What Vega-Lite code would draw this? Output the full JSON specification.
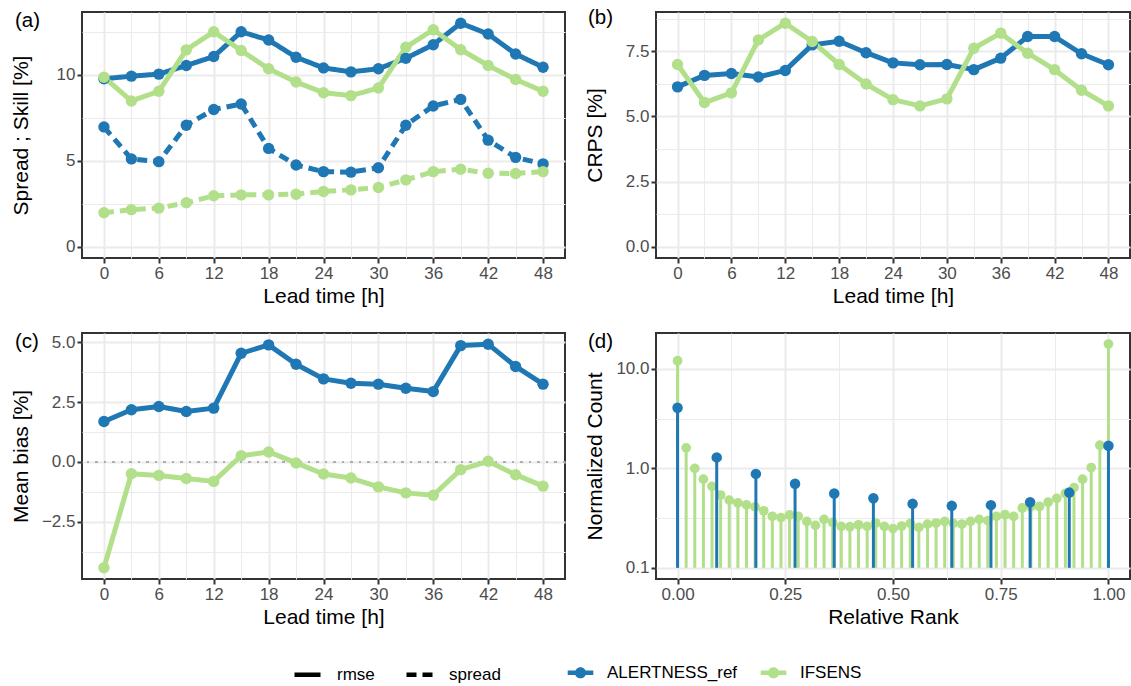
{
  "$schema": "https://vega.github.io/schema/vega-lite/v6.json",
  "padding": {"left": 8, "top": 7, "right": 0, "bottom": 5},
  "bounds": "flush",
  "columns": 2,
  "spacing": {"row": 75, "column": 91},
  "datasets": {
    "skill": [
      {"lead": 0, "model": "ALERTNESS_ref", "stat": "rmse", "value": 9.77},
      {"lead": 3, "model": "ALERTNESS_ref", "stat": "rmse", "value": 9.92},
      {"lead": 6, "model": "ALERTNESS_ref", "stat": "rmse", "value": 10.04},
      {"lead": 9, "model": "ALERTNESS_ref", "stat": "rmse", "value": 10.54},
      {"lead": 12, "model": "ALERTNESS_ref", "stat": "rmse", "value": 11.06},
      {"lead": 15, "model": "ALERTNESS_ref", "stat": "rmse", "value": 12.5},
      {"lead": 18, "model": "ALERTNESS_ref", "stat": "rmse", "value": 12.02},
      {"lead": 21, "model": "ALERTNESS_ref", "stat": "rmse", "value": 11.02},
      {"lead": 24, "model": "ALERTNESS_ref", "stat": "rmse", "value": 10.4},
      {"lead": 27, "model": "ALERTNESS_ref", "stat": "rmse", "value": 10.17},
      {"lead": 30, "model": "ALERTNESS_ref", "stat": "rmse", "value": 10.35},
      {"lead": 33, "model": "ALERTNESS_ref", "stat": "rmse", "value": 10.96},
      {"lead": 36, "model": "ALERTNESS_ref", "stat": "rmse", "value": 11.75},
      {"lead": 39, "model": "ALERTNESS_ref", "stat": "rmse", "value": 13.0},
      {"lead": 42, "model": "ALERTNESS_ref", "stat": "rmse", "value": 12.37},
      {"lead": 45, "model": "ALERTNESS_ref", "stat": "rmse", "value": 11.21},
      {"lead": 48, "model": "ALERTNESS_ref", "stat": "rmse", "value": 10.44},
      {"lead": 0, "model": "ALERTNESS_ref", "stat": "spread", "value": 6.97},
      {"lead": 3, "model": "ALERTNESS_ref", "stat": "spread", "value": 5.11},
      {"lead": 6, "model": "ALERTNESS_ref", "stat": "spread", "value": 4.95},
      {"lead": 9, "model": "ALERTNESS_ref", "stat": "spread", "value": 7.07},
      {"lead": 12, "model": "ALERTNESS_ref", "stat": "spread", "value": 7.98},
      {"lead": 15, "model": "ALERTNESS_ref", "stat": "spread", "value": 8.3},
      {"lead": 18, "model": "ALERTNESS_ref", "stat": "spread", "value": 5.72},
      {"lead": 21, "model": "ALERTNESS_ref", "stat": "spread", "value": 4.76},
      {"lead": 24, "model": "ALERTNESS_ref", "stat": "spread", "value": 4.37},
      {"lead": 27, "model": "ALERTNESS_ref", "stat": "spread", "value": 4.34},
      {"lead": 30, "model": "ALERTNESS_ref", "stat": "spread", "value": 4.6},
      {"lead": 33, "model": "ALERTNESS_ref", "stat": "spread", "value": 7.07},
      {"lead": 36, "model": "ALERTNESS_ref", "stat": "spread", "value": 8.19},
      {"lead": 39, "model": "ALERTNESS_ref", "stat": "spread", "value": 8.57},
      {"lead": 42, "model": "ALERTNESS_ref", "stat": "spread", "value": 6.2},
      {"lead": 45, "model": "ALERTNESS_ref", "stat": "spread", "value": 5.2},
      {"lead": 48, "model": "ALERTNESS_ref", "stat": "spread", "value": 4.82},
      {"lead": 0, "model": "IFSENS", "stat": "rmse", "value": 9.86},
      {"lead": 3, "model": "IFSENS", "stat": "rmse", "value": 8.48},
      {"lead": 6, "model": "IFSENS", "stat": "rmse", "value": 9.04},
      {"lead": 9, "model": "IFSENS", "stat": "rmse", "value": 11.45},
      {"lead": 12, "model": "IFSENS", "stat": "rmse", "value": 12.5},
      {"lead": 15, "model": "IFSENS", "stat": "rmse", "value": 11.41},
      {"lead": 18, "model": "IFSENS", "stat": "rmse", "value": 10.35},
      {"lead": 21, "model": "IFSENS", "stat": "rmse", "value": 9.58},
      {"lead": 24, "model": "IFSENS", "stat": "rmse", "value": 8.96},
      {"lead": 27, "model": "IFSENS", "stat": "rmse", "value": 8.79},
      {"lead": 30, "model": "IFSENS", "stat": "rmse", "value": 9.23},
      {"lead": 33, "model": "IFSENS", "stat": "rmse", "value": 11.6},
      {"lead": 36, "model": "IFSENS", "stat": "rmse", "value": 12.62},
      {"lead": 39, "model": "IFSENS", "stat": "rmse", "value": 11.46},
      {"lead": 42, "model": "IFSENS", "stat": "rmse", "value": 10.54},
      {"lead": 45, "model": "IFSENS", "stat": "rmse", "value": 9.73},
      {"lead": 48, "model": "IFSENS", "stat": "rmse", "value": 9.04},
      {"lead": 0, "model": "IFSENS", "stat": "spread", "value": 1.98},
      {"lead": 3, "model": "IFSENS", "stat": "spread", "value": 2.16},
      {"lead": 6, "model": "IFSENS", "stat": "spread", "value": 2.25},
      {"lead": 9, "model": "IFSENS", "stat": "spread", "value": 2.56},
      {"lead": 12, "model": "IFSENS", "stat": "spread", "value": 2.97},
      {"lead": 15, "model": "IFSENS", "stat": "spread", "value": 3.02},
      {"lead": 18, "model": "IFSENS", "stat": "spread", "value": 3.02},
      {"lead": 21, "model": "IFSENS", "stat": "spread", "value": 3.06},
      {"lead": 24, "model": "IFSENS", "stat": "spread", "value": 3.22},
      {"lead": 27, "model": "IFSENS", "stat": "spread", "value": 3.31},
      {"lead": 30, "model": "IFSENS", "stat": "spread", "value": 3.45},
      {"lead": 33, "model": "IFSENS", "stat": "spread", "value": 3.89},
      {"lead": 36, "model": "IFSENS", "stat": "spread", "value": 4.37},
      {"lead": 39, "model": "IFSENS", "stat": "spread", "value": 4.51},
      {"lead": 42, "model": "IFSENS", "stat": "spread", "value": 4.28},
      {"lead": 45, "model": "IFSENS", "stat": "spread", "value": 4.26},
      {"lead": 48, "model": "IFSENS", "stat": "spread", "value": 4.37}
    ],
    "crps": [
      {"lead": 0, "model": "ALERTNESS_ref", "value": 6.13},
      {"lead": 3, "model": "ALERTNESS_ref", "value": 6.57},
      {"lead": 6, "model": "ALERTNESS_ref", "value": 6.64},
      {"lead": 9, "model": "ALERTNESS_ref", "value": 6.51},
      {"lead": 12, "model": "ALERTNESS_ref", "value": 6.76},
      {"lead": 15, "model": "ALERTNESS_ref", "value": 7.74},
      {"lead": 18, "model": "ALERTNESS_ref", "value": 7.88},
      {"lead": 21, "model": "ALERTNESS_ref", "value": 7.44},
      {"lead": 24, "model": "ALERTNESS_ref", "value": 7.05},
      {"lead": 27, "model": "ALERTNESS_ref", "value": 6.98},
      {"lead": 30, "model": "ALERTNESS_ref", "value": 6.99},
      {"lead": 33, "model": "ALERTNESS_ref", "value": 6.79},
      {"lead": 36, "model": "ALERTNESS_ref", "value": 7.23},
      {"lead": 39, "model": "ALERTNESS_ref", "value": 8.06},
      {"lead": 42, "model": "ALERTNESS_ref", "value": 8.06},
      {"lead": 45, "model": "ALERTNESS_ref", "value": 7.4},
      {"lead": 48, "model": "ALERTNESS_ref", "value": 6.98},
      {"lead": 0, "model": "IFSENS", "value": 6.99},
      {"lead": 3, "model": "IFSENS", "value": 5.53},
      {"lead": 6, "model": "IFSENS", "value": 5.9},
      {"lead": 9, "model": "IFSENS", "value": 7.93},
      {"lead": 12, "model": "IFSENS", "value": 8.57},
      {"lead": 15, "model": "IFSENS", "value": 7.87},
      {"lead": 18, "model": "IFSENS", "value": 6.99},
      {"lead": 21, "model": "IFSENS", "value": 6.24},
      {"lead": 24, "model": "IFSENS", "value": 5.64},
      {"lead": 27, "model": "IFSENS", "value": 5.4},
      {"lead": 30, "model": "IFSENS", "value": 5.67},
      {"lead": 33, "model": "IFSENS", "value": 7.61},
      {"lead": 36, "model": "IFSENS", "value": 8.19},
      {"lead": 39, "model": "IFSENS", "value": 7.42},
      {"lead": 42, "model": "IFSENS", "value": 6.79},
      {"lead": 45, "model": "IFSENS", "value": 6.0},
      {"lead": 48, "model": "IFSENS", "value": 5.4}
    ],
    "bias": [
      {"lead": 0, "model": "ALERTNESS_ref", "value": 1.69},
      {"lead": 3, "model": "ALERTNESS_ref", "value": 2.18},
      {"lead": 6, "model": "ALERTNESS_ref", "value": 2.32},
      {"lead": 9, "model": "ALERTNESS_ref", "value": 2.11},
      {"lead": 12, "model": "ALERTNESS_ref", "value": 2.25},
      {"lead": 15, "model": "ALERTNESS_ref", "value": 4.54},
      {"lead": 18, "model": "ALERTNESS_ref", "value": 4.89},
      {"lead": 21, "model": "ALERTNESS_ref", "value": 4.08},
      {"lead": 24, "model": "ALERTNESS_ref", "value": 3.47},
      {"lead": 27, "model": "ALERTNESS_ref", "value": 3.29},
      {"lead": 30, "model": "ALERTNESS_ref", "value": 3.25},
      {"lead": 33, "model": "ALERTNESS_ref", "value": 3.08},
      {"lead": 36, "model": "ALERTNESS_ref", "value": 2.94},
      {"lead": 39, "model": "ALERTNESS_ref", "value": 4.86},
      {"lead": 42, "model": "ALERTNESS_ref", "value": 4.92},
      {"lead": 45, "model": "ALERTNESS_ref", "value": 3.99},
      {"lead": 48, "model": "ALERTNESS_ref", "value": 3.25},
      {"lead": 0, "model": "IFSENS", "value": -4.42},
      {"lead": 3, "model": "IFSENS", "value": -0.49},
      {"lead": 6, "model": "IFSENS", "value": -0.56},
      {"lead": 9, "model": "IFSENS", "value": -0.69},
      {"lead": 12, "model": "IFSENS", "value": -0.81},
      {"lead": 15, "model": "IFSENS", "value": 0.26},
      {"lead": 18, "model": "IFSENS", "value": 0.42},
      {"lead": 21, "model": "IFSENS", "value": -0.04},
      {"lead": 24, "model": "IFSENS", "value": -0.5},
      {"lead": 27, "model": "IFSENS", "value": -0.67},
      {"lead": 30, "model": "IFSENS", "value": -1.04},
      {"lead": 33, "model": "IFSENS", "value": -1.29},
      {"lead": 36, "model": "IFSENS", "value": -1.39},
      {"lead": 39, "model": "IFSENS", "value": -0.32},
      {"lead": 42, "model": "IFSENS", "value": 0.03},
      {"lead": 45, "model": "IFSENS", "value": -0.53},
      {"lead": 48, "model": "IFSENS", "value": -1.01}
    ],
    "rank": [
      {"rank": 0.00, "model": "IFSENS", "count": 12.1},
      {"rank": 0.02, "model": "IFSENS", "count": 1.61},
      {"rank": 0.04, "model": "IFSENS", "count": 1.0},
      {"rank": 0.06, "model": "IFSENS", "count": 0.78},
      {"rank": 0.08, "model": "IFSENS", "count": 0.66},
      {"rank": 0.10, "model": "IFSENS", "count": 0.54},
      {"rank": 0.12, "model": "IFSENS", "count": 0.48},
      {"rank": 0.14, "model": "IFSENS", "count": 0.45},
      {"rank": 0.16, "model": "IFSENS", "count": 0.43},
      {"rank": 0.18, "model": "IFSENS", "count": 0.41},
      {"rank": 0.20, "model": "IFSENS", "count": 0.375},
      {"rank": 0.22, "model": "IFSENS", "count": 0.33},
      {"rank": 0.24, "model": "IFSENS", "count": 0.32},
      {"rank": 0.26, "model": "IFSENS", "count": 0.34},
      {"rank": 0.28, "model": "IFSENS", "count": 0.33},
      {"rank": 0.30, "model": "IFSENS", "count": 0.293},
      {"rank": 0.32, "model": "IFSENS", "count": 0.267},
      {"rank": 0.34, "model": "IFSENS", "count": 0.307},
      {"rank": 0.36, "model": "IFSENS", "count": 0.286},
      {"rank": 0.38, "model": "IFSENS", "count": 0.261},
      {"rank": 0.40, "model": "IFSENS", "count": 0.259},
      {"rank": 0.42, "model": "IFSENS", "count": 0.271},
      {"rank": 0.44, "model": "IFSENS", "count": 0.261},
      {"rank": 0.46, "model": "IFSENS", "count": 0.282},
      {"rank": 0.48, "model": "IFSENS", "count": 0.261},
      {"rank": 0.50, "model": "IFSENS", "count": 0.248},
      {"rank": 0.52, "model": "IFSENS", "count": 0.263},
      {"rank": 0.54, "model": "IFSENS", "count": 0.28},
      {"rank": 0.56, "model": "IFSENS", "count": 0.255},
      {"rank": 0.58, "model": "IFSENS", "count": 0.275},
      {"rank": 0.60, "model": "IFSENS", "count": 0.282},
      {"rank": 0.62, "model": "IFSENS", "count": 0.293},
      {"rank": 0.64, "model": "IFSENS", "count": 0.28},
      {"rank": 0.66, "model": "IFSENS", "count": 0.275},
      {"rank": 0.68, "model": "IFSENS", "count": 0.293},
      {"rank": 0.70, "model": "IFSENS", "count": 0.307},
      {"rank": 0.72, "model": "IFSENS", "count": 0.298},
      {"rank": 0.74, "model": "IFSENS", "count": 0.329},
      {"rank": 0.76, "model": "IFSENS", "count": 0.342},
      {"rank": 0.78, "model": "IFSENS", "count": 0.329},
      {"rank": 0.80, "model": "IFSENS", "count": 0.40},
      {"rank": 0.82, "model": "IFSENS", "count": 0.414},
      {"rank": 0.84, "model": "IFSENS", "count": 0.414},
      {"rank": 0.86, "model": "IFSENS", "count": 0.457},
      {"rank": 0.88, "model": "IFSENS", "count": 0.50},
      {"rank": 0.90, "model": "IFSENS", "count": 0.56},
      {"rank": 0.92, "model": "IFSENS", "count": 0.64},
      {"rank": 0.94, "model": "IFSENS", "count": 0.78},
      {"rank": 0.96, "model": "IFSENS", "count": 1.02},
      {"rank": 0.98, "model": "IFSENS", "count": 1.71},
      {"rank": 1.00, "model": "IFSENS", "count": 17.8},
      {"rank": 0.0, "model": "ALERTNESS_ref", "count": 4.07},
      {"rank": 0.0909, "model": "ALERTNESS_ref", "count": 1.29},
      {"rank": 0.1818, "model": "ALERTNESS_ref", "count": 0.88},
      {"rank": 0.2727, "model": "ALERTNESS_ref", "count": 0.70},
      {"rank": 0.3636, "model": "ALERTNESS_ref", "count": 0.56},
      {"rank": 0.4545, "model": "ALERTNESS_ref", "count": 0.50},
      {"rank": 0.5455, "model": "ALERTNESS_ref", "count": 0.44},
      {"rank": 0.6364, "model": "ALERTNESS_ref", "count": 0.42},
      {"rank": 0.7273, "model": "ALERTNESS_ref", "count": 0.427},
      {"rank": 0.8182, "model": "ALERTNESS_ref", "count": 0.457},
      {"rank": 0.9091, "model": "ALERTNESS_ref", "count": 0.571},
      {"rank": 1.0, "model": "ALERTNESS_ref", "count": 1.69}
    ]
  },
  "concat": [
    {
      "title": {"text": "(a)", "anchor": "start", "frame": "group", "orient": "top", "offset": 0, "dx": -67, "dy": 29, "baseline": "middle"},
      "width": 483,
      "height": 246,
      "data": {"name": "skill"},
      "encoding": {
        "x": {"field": "lead", "type": "quantitative", "title": "Lead time [h]",
          "scale": {"domain": [-2.4, 50.4], "nice": false, "zero": false},
          "axis": {"values": [0, 3, 6, 9, 12, 15, 18, 21, 24, 27, 30, 33, 36, 39, 42, 45, 48], "format": "d",
            "labelExpr": "datum.value % 6 === 0 ? datum.label : ''",
            "gridWidth": {"condition": {"test": "datum.value % 6 === 0", "value": 2}, "value": 1},
            "tickOpacity": {"condition": {"test": "datum.value % 6 === 0", "value": 1}, "value": 0}}},
        "y": {"field": "value", "type": "quantitative", "title": "Spread ; Skill [%]",
          "scale": {"domain": [-0.65, 13.65], "nice": false, "zero": false},
          "axis": {"values": [0, 2.5, 5, 7.5, 10, 12.5], "format": "d",
            "labelExpr": "datum.value % 5 === 0 ? datum.label : ''",
            "gridWidth": {"condition": {"test": "datum.value % 5 === 0", "value": 2}, "value": 1},
            "tickOpacity": {"condition": {"test": "datum.value % 5 === 0", "value": 1}, "value": 0}}},
        "color": {"field": "model", "type": "nominal",
          "scale": {"domain": ["ALERTNESS_ref", "IFSENS"], "range": ["#1F78B4", "#B2DF8A"]},
          "legend": {"title": null, "orient": "none", "legendX": 490, "legendY": 652, "direction": "horizontal",
            "symbolType": "M-1.6,-0.28H1.6V0.28H-1.6Z M-0.7,0A0.7,0.7 0 1,1 0.7,0A0.7,0.7 0 1,1 -0.7,0Z",
            "symbolSize": 256, "labelOffset": 18, "columnPadding": 22,
            "encode": {"symbols": {"update": {"fill": {"scale": "color", "field": "value"}, "stroke": {"value": "transparent"}, "strokeWidth": {"value": 0}, "opacity": {"value": 1}}}}}}
      },
      "layer": [
        {
          "mark": {"type": "line", "strokeWidth": 5, "strokeCap": "butt", "strokeJoin": "round"},
          "encoding": {
            "strokeDash": {"field": "stat", "type": "nominal",
              "scale": {"domain": ["rmse", "spread"], "range": [[1, 0], [10, 6]]},
              "legend": {"title": null, "orient": "none", "legendX": 215, "legendY": 652, "direction": "horizontal",
                "symbolType": "M-1.625,0H1.625", "symbolSize": 256, "labelOffset": 19, "columnPadding": 22,
                "encode": {"symbols": {"update": {"stroke": {"value": "black"}, "fill": {"value": "transparent"}, "strokeWidth": {"value": 4.5}, "strokeCap": {"value": "butt"}, "strokeDash": {"scale": "strokeDash", "field": "value"}, "opacity": {"value": 1}}}}}}
          }
        },
        {"mark": {"type": "point", "filled": true, "size": 130, "opacity": 1}}
      ]
    },
    {
      "title": {"text": "(b)", "anchor": "start", "frame": "group", "orient": "top", "offset": 0, "dx": -68, "dy": 29, "baseline": "middle"},
      "width": 474,
      "height": 246,
      "data": {"name": "crps"},
      "encoding": {
        "x": {"field": "lead", "type": "quantitative", "title": "Lead time [h]",
          "scale": {"domain": [-2.4, 50.4], "nice": false, "zero": false},
          "axis": {"values": [0, 3, 6, 9, 12, 15, 18, 21, 24, 27, 30, 33, 36, 39, 42, 45, 48], "format": "d",
            "labelExpr": "datum.value % 6 === 0 ? datum.label : ''",
            "gridWidth": {"condition": {"test": "datum.value % 6 === 0", "value": 2}, "value": 1},
            "tickOpacity": {"condition": {"test": "datum.value % 6 === 0", "value": 1}, "value": 0}}},
        "y": {"field": "value", "type": "quantitative", "title": "CRPS [%]",
          "scale": {"domain": [-0.43, 9.0], "nice": false, "zero": false},
          "axis": {"values": [0, 1.25, 2.5, 3.75, 5, 6.25, 7.5, 8.75], "format": ".1f",
            "labelExpr": "datum.value % 2.5 === 0 ? datum.label : ''",
            "gridWidth": {"condition": {"test": "datum.value % 2.5 === 0", "value": 2}, "value": 1},
            "tickOpacity": {"condition": {"test": "datum.value % 2.5 === 0", "value": 1}, "value": 0}}},
        "color": {"field": "model", "type": "nominal",
          "scale": {"domain": ["ALERTNESS_ref", "IFSENS"], "range": ["#1F78B4", "#B2DF8A"]},
          "legend": {"title": null, "orient": "none", "legendX": 490, "legendY": 652, "direction": "horizontal",
            "symbolType": "M-1.6,-0.28H1.6V0.28H-1.6Z M-0.7,0A0.7,0.7 0 1,1 0.7,0A0.7,0.7 0 1,1 -0.7,0Z",
            "symbolSize": 256, "labelOffset": 18, "columnPadding": 22,
            "encode": {"symbols": {"update": {"fill": {"scale": "color", "field": "value"}, "stroke": {"value": "transparent"}, "strokeWidth": {"value": 0}, "opacity": {"value": 1}}}}}}
      },
      "layer": [
        {"mark": {"type": "line", "strokeWidth": 5, "strokeCap": "butt", "strokeJoin": "round"}},
        {"mark": {"type": "point", "filled": true, "size": 130, "opacity": 1}}
      ]
    },
    {
      "title": {"text": "(c)", "anchor": "start", "frame": "group", "orient": "top", "offset": 0, "dx": -67, "dy": 29, "baseline": "middle"},
      "width": 483,
      "height": 246,
      "data": {"name": "bias"},
      "encoding": {
        "x": {"field": "lead", "type": "quantitative", "title": "Lead time [h]",
          "scale": {"domain": [-2.4, 50.4], "nice": false, "zero": false},
          "axis": {"values": [0, 3, 6, 9, 12, 15, 18, 21, 24, 27, 30, 33, 36, 39, 42, 45, 48], "format": "d",
            "labelExpr": "datum.value % 6 === 0 ? datum.label : ''",
            "gridWidth": {"condition": {"test": "datum.value % 6 === 0", "value": 2}, "value": 1},
            "tickOpacity": {"condition": {"test": "datum.value % 6 === 0", "value": 1}, "value": 0}}},
        "y": {"field": "value", "type": "quantitative", "title": "Mean bias [%]",
          "scale": {"domain": [-4.887, 5.387], "nice": false, "zero": false},
          "axis": {"values": [-3.75, -2.5, -1.25, 0, 1.25, 2.5, 3.75, 5], "format": ".1f",
            "labelExpr": "datum.value % 2.5 === 0 ? datum.label : ''",
            "gridWidth": {"condition": {"test": "datum.value % 2.5 === 0", "value": 2}, "value": 1},
            "tickOpacity": {"condition": {"test": "datum.value % 2.5 === 0", "value": 1}, "value": 0}}},
        "color": {"field": "model", "type": "nominal",
          "scale": {"domain": ["ALERTNESS_ref", "IFSENS"], "range": ["#1F78B4", "#B2DF8A"]},
          "legend": {"title": null, "orient": "none", "legendX": 490, "legendY": 652, "direction": "horizontal",
            "symbolType": "M-1.6,-0.28H1.6V0.28H-1.6Z M-0.7,0A0.7,0.7 0 1,1 0.7,0A0.7,0.7 0 1,1 -0.7,0Z",
            "symbolSize": 256, "labelOffset": 18, "columnPadding": 22,
            "encode": {"symbols": {"update": {"fill": {"scale": "color", "field": "value"}, "stroke": {"value": "transparent"}, "strokeWidth": {"value": 0}, "opacity": {"value": 1}}}}}}
      },
      "layer": [
        {"mark": {"type": "rule", "color": "#ADADAD", "strokeWidth": 2, "strokeDash": [2, 6.5]},
         "encoding": {"y": {"datum": 0}, "x": null, "color": null}},
        {"mark": {"type": "line", "strokeWidth": 5, "strokeCap": "butt", "strokeJoin": "round"}},
        {"mark": {"type": "point", "filled": true, "size": 130, "opacity": 1}}
      ]
    },
    {
      "title": {"text": "(d)", "anchor": "start", "frame": "group", "orient": "top", "offset": 0, "dx": -68, "dy": 29, "baseline": "middle"},
      "width": 474,
      "height": 246,
      "data": {"name": "rank"},
      "encoding": {
        "x": {"field": "rank", "type": "quantitative", "title": "Relative Rank",
          "scale": {"domain": [-0.05, 1.05], "nice": false, "zero": false},
          "axis": {"values": [0, 0.125, 0.25, 0.375, 0.5, 0.625, 0.75, 0.875, 1], "format": ".2f",
            "labelExpr": "indexof([0, 0.25, 0.5, 0.75, 1], datum.value) >= 0 ? datum.label : ''",
            "gridWidth": {"condition": {"test": "indexof([0, 0.25, 0.5, 0.75, 1], datum.value) >= 0", "value": 2}, "value": 1},
            "tickOpacity": {"condition": {"test": "indexof([0, 0.25, 0.5, 0.75, 1], datum.value) >= 0", "value": 1}, "value": 0}}},
        "y": {"field": "count", "type": "quantitative", "title": "Normalized Count",
          "scale": {"type": "log", "domain": [0.0772, 23.0], "nice": false},
          "axis": {"values": [0.1, 0.31623, 1, 3.1623, 10], "format": ".1f",
            "labelExpr": "indexof([0.1, 1, 10], datum.value) >= 0 ? datum.label : ''",
            "gridWidth": {"condition": {"test": "indexof([0.1, 1, 10], datum.value) >= 0", "value": 2}, "value": 1},
            "tickOpacity": {"condition": {"test": "indexof([0.1, 1, 10], datum.value) >= 0", "value": 1}, "value": 0}}},
        "color": {"field": "model", "type": "nominal",
          "scale": {"domain": ["ALERTNESS_ref", "IFSENS"], "range": ["#1F78B4", "#B2DF8A"]},
          "legend": {"title": null, "orient": "none", "legendX": 490, "legendY": 652, "direction": "horizontal",
            "symbolType": "M-1.6,-0.28H1.6V0.28H-1.6Z M-0.7,0A0.7,0.7 0 1,1 0.7,0A0.7,0.7 0 1,1 -0.7,0Z",
            "symbolSize": 256, "labelOffset": 18, "columnPadding": 22,
            "encode": {"symbols": {"update": {"fill": {"scale": "color", "field": "value"}, "stroke": {"value": "transparent"}, "strokeWidth": {"value": 0}, "opacity": {"value": 1}}}}}}
      },
      "layer": [
        {"transform": [{"filter": "datum.model === 'IFSENS'"}],
         "mark": {"type": "rule", "strokeWidth": 3},
         "encoding": {"y2": {"datum": 0.1}}},
        {"transform": [{"filter": "datum.model === 'IFSENS'"}],
         "mark": {"type": "point", "filled": true, "size": 95, "opacity": 1}},
        {"transform": [{"filter": "datum.model === 'ALERTNESS_ref'"}],
         "mark": {"type": "rule", "strokeWidth": 3},
         "encoding": {"y2": {"datum": 0.1}}},
        {"transform": [{"filter": "datum.model === 'ALERTNESS_ref'"}],
         "mark": {"type": "point", "filled": true, "size": 110, "opacity": 1}}
      ]
    }
  ],
  "config": {
    "font": "Liberation Sans",
    "view": {"stroke": "#333333", "strokeWidth": 2},
    "axis": {
      "domain": false,
      "grid": true,
      "gridColor": "#EBEBEB",
      "tickColor": "#333333",
      "tickWidth": 2,
      "tickSize": 5,
      "labelColor": "#4D4D4D",
      "labelFontSize": 17,
      "labelPadding": 2,
      "labelOverlap": false,
      "labelFlush": false,
      "titleFontSize": 21,
      "titleFontWeight": "normal",
      "titleColor": "#000000",
      "titlePadding": 4
    },
    "axisY": {"titleX": -61, "titleBaseline": "middle"},
    "legend": {"labelFontSize": 17, "labelColor": "#000000", "labelFont": "Liberation Sans"},
    "title": {"fontSize": 20.5, "fontWeight": "normal", "color": "#000000"}
  }
}
